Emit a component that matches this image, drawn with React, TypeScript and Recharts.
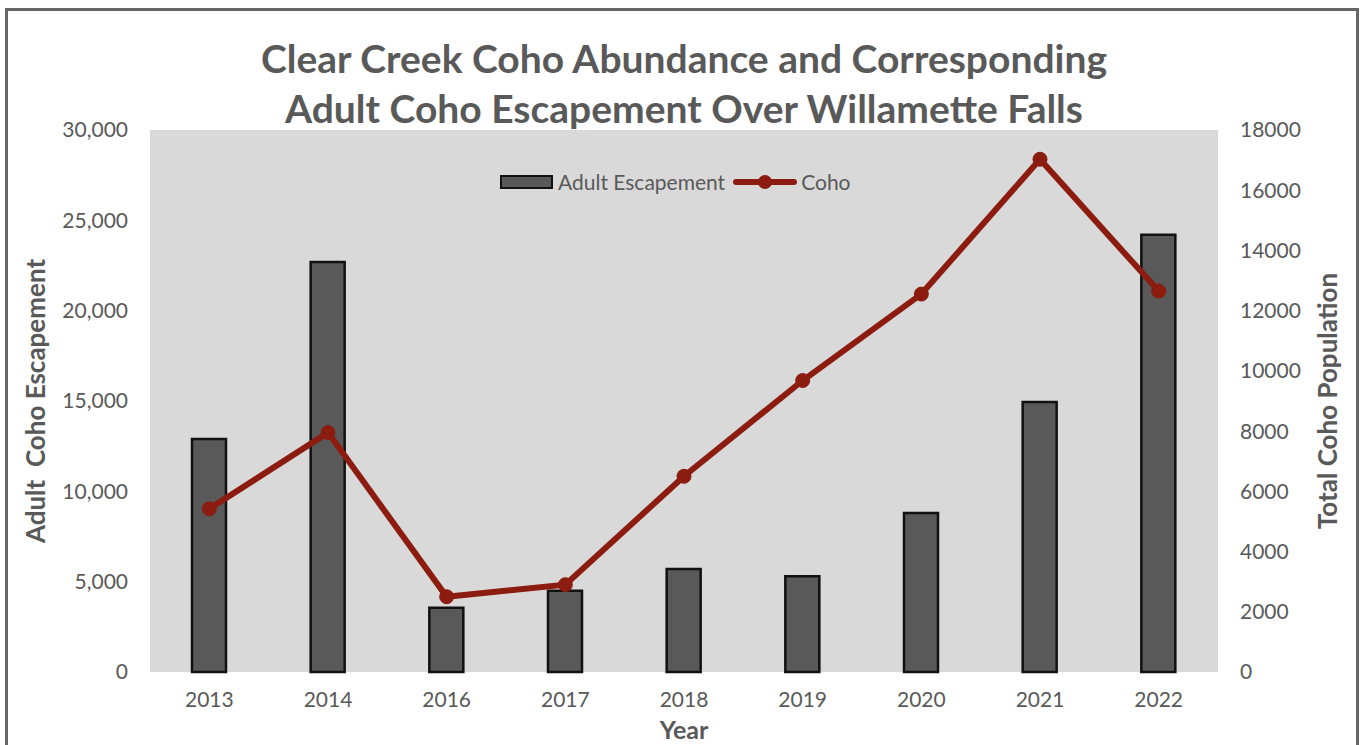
import {
  Bar,
  CartesianGrid,
  ComposedChart,
  Label,
  Line,
  XAxis,
  YAxis,
} from "recharts";

const YEARS = ["2013", "2014", "2016", "2017", "2018", "2019", "2020", "2021", "2022"];
const ADULT_ESCAPEMENT = [12900, 22700, 3550, 4500, 5700, 5300, 8800, 14950, 24200];
const COHO = [5420, 7950, 2500, 2900, 6500, 9680, 12550, 17030, 12650];

const LEFT_TICKS = [0, 5000, 10000, 15000, 20000, 25000, 30000];
const RIGHT_TICKS = [0, 2000, 4000, 6000, 8000, 10000, 12000, 14000, 16000, 18000];

const W = 1364;
const H = 745;
const FONT = "Lato, 'Open Sans', sans-serif";
const GREY = "#595959";
const RED = "#8c1c10";

const data = YEARS.map((y, i) => ({
  year: y,
  escapement: ADULT_ESCAPEMENT[i],
  coho: COHO[i],
}));

// legend sits inside the plot, drawn as plain html over the chart
function LegendBox() {
  return (
    <div
      style={{
        position: "absolute",
        left: 500,
        top: 169,
        display: "flex",
        alignItems: "center",
        fontFamily: FONT,
        fontSize: 21,
        color: GREY,
      }}
    >
      <span
        style={{
          width: 53,
          height: 14,
          background: GREY,
          border: "2px solid #111",
          boxSizing: "border-box",
          marginRight: 5,
        }}
      />
      <span>Adult Escapement</span>
      <svg width={64} height={20} style={{ margin: "0 4px 0 8px" }}>
        <line x1={3} y1={10} x2={61} y2={10} stroke={RED} strokeWidth={6} strokeLinecap="round" />
        <circle cx={32} cy={10} r={7} fill={RED} />
      </svg>
      <span>Coho</span>
    </div>
  );
}

export default function App() {
  return (
    <div
      style={{
        position: "absolute",
        left: 0,
        top: 0,
        width: W,
        height: H,
        background: "#fff",
        overflow: "hidden",
      }}
    >
      <div
        style={{
          position: "absolute",
          left: 5,
          top: 8,
          width: 1348,
          height: 760,
          border: "3px solid #666",
        }}
      />
      <div
        style={{
          position: "absolute",
          left: 0,
          top: 33,
          width: 1368,
          textAlign: "center",
          fontFamily: FONT,
          fontWeight: 700,
          fontSize: 39,
          lineHeight: "50px",
          color: GREY,
        }}
      >
        Clear Creek Coho Abundance and Corresponding
        <br />
        Adult Coho Escapement Over Willamette Falls
      </div>
      <ComposedChart
        width={W}
        height={H}
        data={data}
        margin={{ top: 130, right: 0, bottom: 0, left: 0 }}
        style={{ position: "absolute", left: 0, top: 0 }}
      >
        <CartesianGrid horizontal={false} vertical={false} fill="#d9d9d9" />
        <XAxis
          dataKey="year"
          height={73}
          axisLine={false}
          tickLine={false}
          tickSize={0}
          tickMargin={20}
          tick={{ fill: GREY, fontSize: 21, fontFamily: FONT }}
        >
          <Label
            value="Year"
            position="insideBottom"
            offset={6}
            style={{ fill: GREY, fontSize: 25, fontWeight: 700, fontFamily: FONT }}
          />
        </XAxis>
        <YAxis
          yAxisId="left"
          width={150}
          domain={[0, 30000]}
          ticks={LEFT_TICKS}
          axisLine={false}
          tickLine={false}
          tickSize={0}
          tickMargin={22}
          tickFormatter={(v: number) => v.toLocaleString("en-US")}
          tick={{ fill: GREY, fontSize: 21, fontFamily: FONT }}
        >
          <Label
            value={"Adult\u00a0 Coho Escapement"}
            angle={-90}
            position="insideLeft"
            offset={36}
            style={{
              fill: GREY,
              fontSize: 26,
              fontWeight: 700,
              fontFamily: FONT,
              textAnchor: "middle",
            }}
          />
        </YAxis>
        <YAxis
          yAxisId="right"
          orientation="right"
          width={146}
          domain={[0, 18000]}
          ticks={RIGHT_TICKS}
          axisLine={false}
          tickLine={false}
          tickSize={0}
          tickMargin={22}
          tick={{ fill: GREY, fontSize: 21, fontFamily: FONT, textAnchor: "start" }}
        >
          <Label
            value="Total Coho Population"
            angle={-90}
            position="insideRight"
            offset={36}
            style={{
              fill: GREY,
              fontSize: 26,
              fontWeight: 700,
              fontFamily: FONT,
              textAnchor: "middle",
            }}
          />
        </YAxis>
        <Bar
          yAxisId="left"
          dataKey="escapement"
          name="Adult Escapement"
          fill={GREY}
          stroke="#111"
          strokeWidth={2.5}
          barSize={34}
          isAnimationActive={false}
        />
        <Line
          yAxisId="right"
          dataKey="coho"
          name="Coho"
          stroke={RED}
          strokeWidth={6}
          dot={{ r: 7, fill: RED, stroke: RED, strokeWidth: 1 }}
          isAnimationActive={false}
        />
      </ComposedChart>
      <LegendBox />
    </div>
  );
}
